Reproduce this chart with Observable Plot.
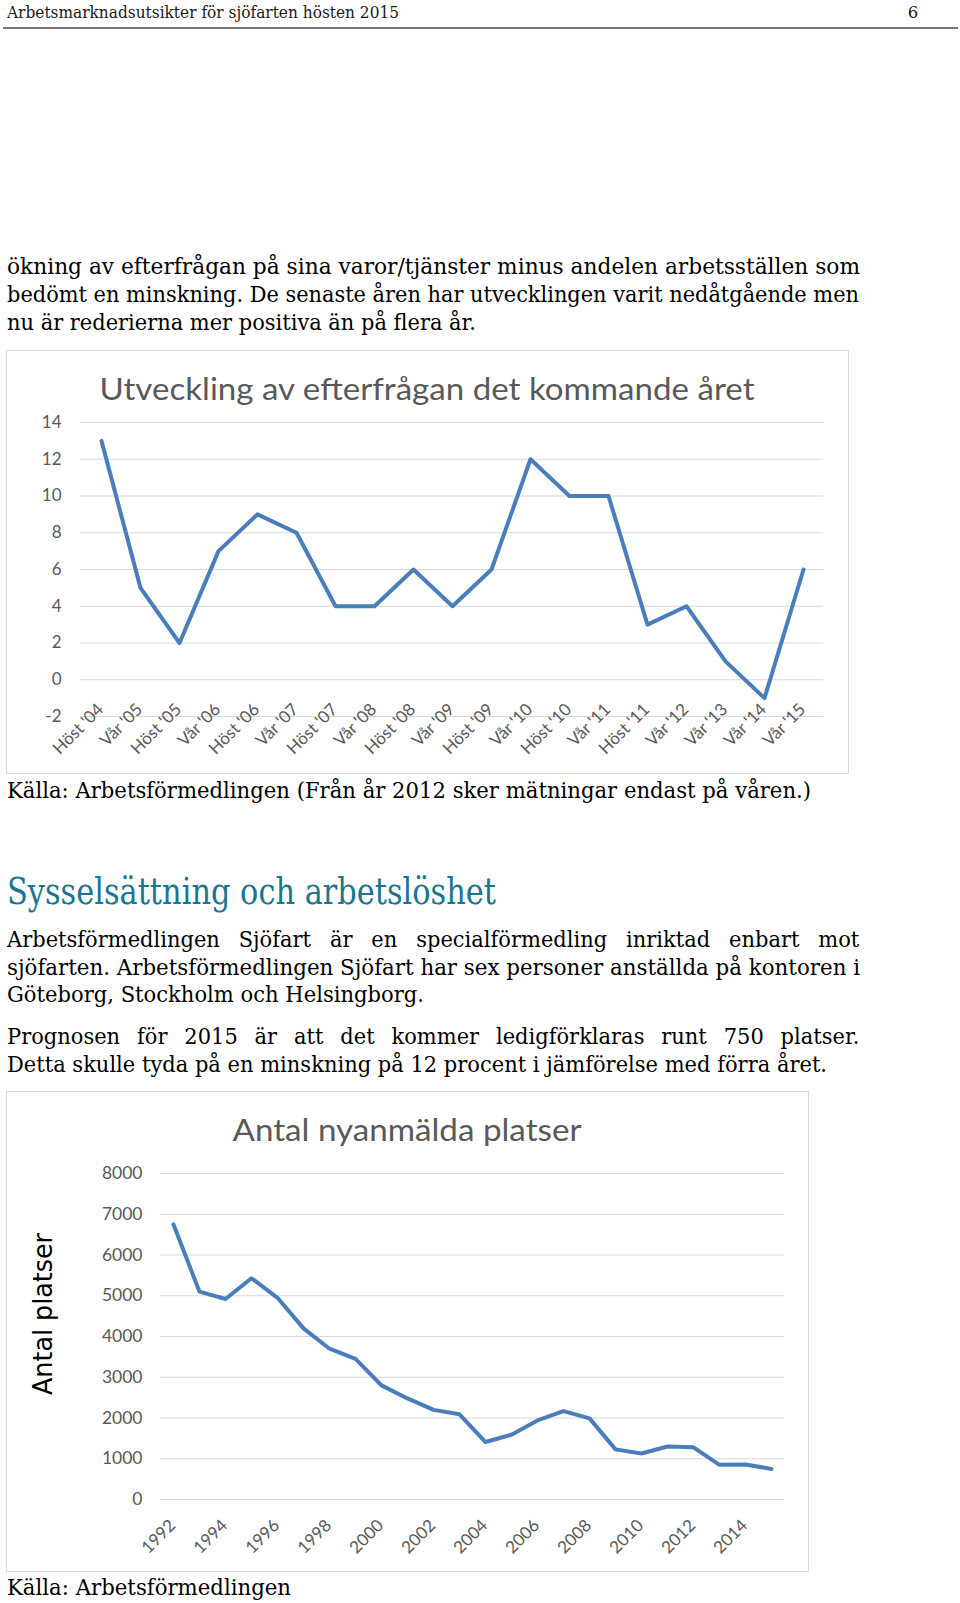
<!DOCTYPE html>
<html><head><meta charset="utf-8">
<script src="https://cdn.jsdelivr.net/npm/d3@7"></script>
<script src="https://cdn.jsdelivr.net/npm/@observablehq/plot@0.6"></script>
<style>
html,body{margin:0;padding:0;background:#fff;}
#page{position:relative;width:960px;height:1603px;overflow:hidden;background:#fff;}
.frame{position:absolute;border:1px solid #d9d9d9;box-sizing:border-box;background:#fff;}
.chart{position:absolute;left:0;}
#overlay{position:absolute;left:0;top:0;pointer-events:none;}
</style></head><body><div id="page"></div>
<script>
// ---- Chart 1 data: Utveckling av efterfrågan det kommande året ----
const demandCategories = ["Höst '04","Vår '05","Höst '05","Vår '06","Höst '06","Vår '07","Höst '07","Vår '08","Höst '08","Vår '09","Höst '09","Vår '10","Höst '10","Vår '11","Höst '11","Vår '12","Vår '13","Vår '14","Vår '15"];
const demandValues = [13, 5, 2, 7, 9, 8, 4, 4, 6, 4, 6, 12, 10, 10, 3, 4, 1, -1, 6];
const demandTicks = [-2, 0, 2, 4, 6, 8, 10, 12, 14];

// ---- Chart 2 data: Antal nyanmälda platser ----
const placementYears = [1992,1993,1994,1995,1996,1997,1998,1999,2000,2001,2002,2003,2004,2005,2006,2007,2008,2009,2010,2011,2012,2013,2014,2015];
const placementValues = [6750,5100,4920,5430,4950,4200,3700,3450,2800,2480,2200,2090,1410,1590,1940,2170,1990,1230,1130,1300,1280,850,860,750];
const placementTicks = [0,1000,2000,3000,4000,5000,6000,7000,8000];
const placementLabelYears = [1992,1994,1996,1998,2000,2002,2004,2006,2008,2010,2012,2014];

const page = document.getElementById("page");
const LINE = "#4a7ebb", GRID = "#d9d9d9", GREY = "#595959";
const SANS = "Lato, 'Open Sans', sans-serif";

function frame(l, t, w, h) {
  const d = document.createElement("div");
  d.className = "frame";
  Object.assign(d.style, {left: l + "px", top: t + "px", width: w + "px", height: h + "px"});
  page.appendChild(d);
}
frame(6, 350, 843, 424);
frame(6, 1091, 803, 481);

// ---- Chart 1 ----
const demandData = demandCategories.map((c, i) => ({cat: c, value: demandValues[i]}));
const chart1 = Plot.plot({
  width: 960, height: 424,
  marginLeft: 80, marginRight: 137, marginTop: 72, marginBottom: 58,
  style: {fontFamily: SANS, fontSize: "17px", color: GREY, background: "transparent", overflow: "visible"},
  x: {type: "point", domain: demandCategories, padding: 0.5, axis: null},
  y: {domain: [-2, 14], ticks: demandTicks, label: null, tickSize: 0, tickPadding: 19,
      tickFormat: d => (d < 0 ? "-" + Math.abs(d) : String(d))},
  marks: [
    Plot.gridY(demandTicks, {stroke: GRID, strokeOpacity: 1, strokeWidth: 1}),
    Plot.line(demandData, {x: "cat", y: "value", stroke: LINE, strokeWidth: 4, strokeLinejoin: "round", strokeLinecap: "round"}),
    Plot.text(demandCategories, {x: d => d, frameAnchor: "bottom", rotate: -45, textAnchor: "end", lineAnchor: "bottom", dx: 3, dy: -6, fill: GREY, fontSize: 17})
  ]
});
chart1.classList.add("chart");
chart1.style.top = "350px";
page.appendChild(chart1);

// ---- Chart 2 ----
const placementData = placementYears.map((y, i) => ({year: y, value: placementValues[i]}));
const chart2 = Plot.plot({
  width: 960, height: 481,
  marginLeft: 160, marginRight: 176, marginTop: 82, marginBottom: 73,
  style: {fontFamily: SANS, fontSize: "17.5px", color: GREY, background: "transparent", overflow: "visible"},
  x: {type: "point", domain: placementYears, padding: 0.5, axis: null},
  y: {domain: [0, 8000], ticks: placementTicks, label: null, tickSize: 0, tickPadding: 18, tickFormat: d => String(d)},
  marks: [
    Plot.gridY(placementTicks, {stroke: GRID, strokeOpacity: 1, strokeWidth: 1}),
    Plot.line(placementData, {x: "year", y: "value", stroke: LINE, strokeWidth: 4, strokeLinejoin: "round", strokeLinecap: "round"}),
    Plot.text(placementLabelYears, {x: d => d, text: d => String(d), frameAnchor: "bottom", rotate: -45, textAnchor: "end", lineAnchor: "bottom", dx: 3, dy: 27, fill: GREY, fontSize: 17})
  ]
});
chart2.classList.add("chart");
chart2.style.top = "1091px";
page.appendChild(chart2);

// ---- Text overlay ----
const overlay = d3.select(page).append("svg").attr("id", "overlay").attr("width", 960).attr("height", 1603);
const SERIF = "'DejaVu Serif', 'Liberation Serif', serif";

function measure(text, size, family) {
  const t = overlay.append("text").attr("font-size", size).attr("font-family", family).text(text);
  const w = t.node().getComputedTextLength();
  t.remove();
  return w;
}
function plain(text, x, y, width, size, family, color, anchor) {
  const t = overlay.append("text").attr("x", x).attr("y", y)
    .attr("font-size", size).attr("font-family", family).attr("fill", color || "#000")
    .attr("text-anchor", anchor || "start").text(text);
  if (width) t.attr("textLength", width).attr("lengthAdjust", "spacingAndGlyphs");
  return t;
}
function justified(text, x, y, width, size, family, k) {
  const natural = measure(text, size, family);
  const spaces = (text.match(/ /g) || []).length;
  const ws = spaces ? (width / k - natural) / spaces : 0;
  overlay.append("text").attr("transform", `translate(${x},${y}) scale(${k},1)`)
    .attr("font-size", size).attr("font-family", family).attr("fill", "#000")
    .attr("word-spacing", ws).text(text);
}

// header
plain("Arbetsmarknadsutsikter för sjöfarten hösten 2015", 7, 17.5, 392, 16.5, SERIF, "#1a1a1a");
plain("6", 913, 17.5, null, 16.5, SERIF, "#1a1a1a", "middle");
overlay.append("line").attr("x1", 3).attr("x2", 958).attr("y1", 28).attr("y2", 28).attr("stroke", "#4a4a4a").attr("stroke-width", 1.6);

// body text
const BODY = 22.5;
const lastLines = [
  ["nu är rederierna mer positiva än på flera år.", 469],
  ["Göteborg, Stockholm och Helsingborg.", 417],
  ["Detta skulle tyda på en minskning på 12 procent i jämförelse med förra året.", 820]
];
const kBody = d3.mean(lastLines, ([t, w]) => w / measure(t, BODY, SERIF));

plain("ökning av efterfrågan på sina varor/tjänster minus andelen arbetsställen som", 7, 273.5, 853, BODY, SERIF);
plain("bedömt en minskning. De senaste åren har utvecklingen varit nedåtgående men", 7, 302, 852, BODY, SERIF);
plain(lastLines[0][0], 7, 330, lastLines[0][1], BODY, SERIF);

plain("Källa: Arbetsförmedlingen (Från år 2012 sker mätningar endast på våren.)", 7, 797.5, 804, BODY, SERIF);

plain("Sysselsättning och arbetslöshet", 7, 904, 489, 37, SERIF, "#1b7590");

justified("Arbetsförmedlingen Sjöfart är en specialförmedling inriktad enbart mot", 7, 946.5, 853, BODY, SERIF, kBody);
plain("sjöfarten. Arbetsförmedlingen Sjöfart har sex personer anställda på kontoren i", 7, 974.5, 853, BODY, SERIF);
plain(lastLines[1][0], 7, 1002, lastLines[1][1], BODY, SERIF);

justified("Prognosen för 2015 är att det kommer ledigförklaras runt 750 platser.", 7, 1043.5, 853, BODY, SERIF, kBody);
plain(lastLines[2][0], 7, 1072, lastLines[2][1], BODY, SERIF);

plain("Källa: Arbetsförmedlingen", 7, 1595, 284, BODY, SERIF);

// chart titles
plain("Utveckling av efterfrågan det kommande året", 427, 400, 655, 31, SANS, GREY, "middle");
plain("Antal nyanmälda platser", 407, 1141, 349, 31, SANS, GREY, "middle");

// y-axis title of chart 2
overlay.append("text").attr("transform", "translate(43,1314) rotate(-90)")
  .attr("text-anchor", "middle").attr("dominant-baseline", "central")
  .attr("font-size", 26).attr("font-family", "'DejaVu Sans', sans-serif").attr("fill", "#000")
  .attr("textLength", 162).attr("lengthAdjust", "spacingAndGlyphs").text("Antal platser");
</script>
</body></html>
